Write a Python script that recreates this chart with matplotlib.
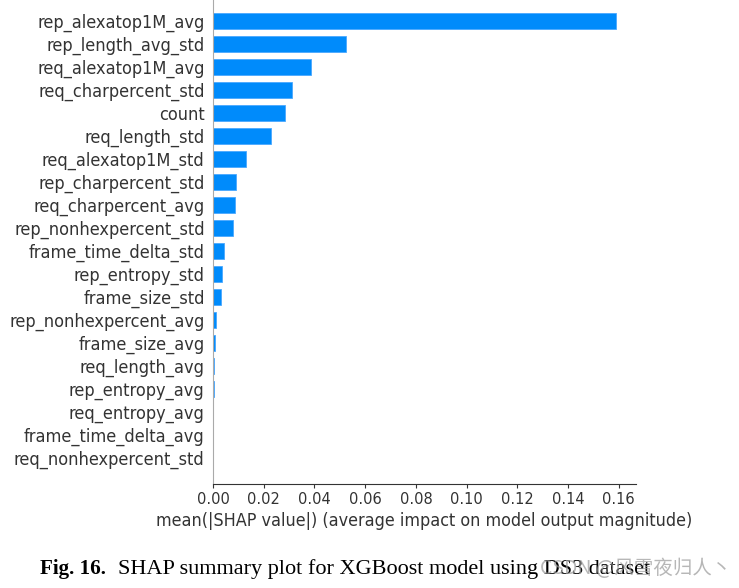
from matplotlib import pyplot as plt
import numpy as np

# features, most important first
features = ["rep_alexatop1M_avg", "rep_length_avg_std", "req_alexatop1M_avg",
            "req_charpercent_std", "count", "req_length_std",
            "req_alexatop1M_std", "rep_charpercent_std", "req_charpercent_avg",
            "rep_nonhexpercent_std", "frame_time_delta_std", "rep_entropy_std",
            "frame_size_std", "rep_nonhexpercent_avg", "frame_size_avg",
            "req_length_avg", "rep_entropy_avg", "req_entropy_avg",
            "frame_time_delta_avg", "req_nonhexpercent_std"]
mean_shap = [0.1588, 0.0525, 0.0385, 0.0310, 0.0283, 0.0228, 0.0130, 0.0089,
             0.0088, 0.0078, 0.0043, 0.0037, 0.0033, 0.0013, 0.0007, 0.0003,
             0.0003, 0.0001, 0.00003, 0.00002]
xticks = [0.00, 0.02, 0.04, 0.06, 0.08, 0.10, 0.12, 0.14, 0.16]

W, H = 739, 588
fig = plt.figure(figsize=(W / 100, H / 100), dpi=100)
ax = fig.add_axes([213 / W, 1 - 483.5 / H, (636 - 213) / W, 483.5 / H])

n = len(features)
y_pos = np.arange(n)[::-1]
ax.barh(y_pos, mean_shap, 0.7, align="center", color="#008bfb",
        edgecolor="#4aa8ff", linewidth=0.6)

ax.set_yticks(y_pos)
ax.set_yticklabels(features, fontsize=13, color="#333333",
                   family="DejaVu Sans", stretch="condensed")
ax.tick_params("y", length=0, pad=6)
ax.set_ylim(-1.11, n - 1 + 0.91)

ax.set_xlim(0, 0.1668)
ax.set_xticks(xticks)
ax.set_xticklabels([f"{t:.2f}" for t in xticks])
ax.tick_params("x", labelsize=10.5, labelcolor="#333333", color="#333333",
               length=3, pad=3)
ax.set_xlabel("mean(|SHAP value|) (average impact on model output magnitude)",
              fontsize=12.9, color="#333333", labelpad=4, stretch="condensed")

for s in ["top", "right"]:
    ax.spines[s].set_visible(False)
ax.spines["left"].set_color("#aaaaaa")
ax.spines["left"].set_linewidth(0.8)
ax.spines["bottom"].set_color("#333333")

# caption below the chart
fig.text(40 / W, 1 - 569 / H, "Fig. 16.", fontsize=15.2, fontweight="bold",
         family="Liberation Serif", va="center", ha="left")
fig.text(118 / W, 1 - 569 / H,
         "SHAP summary plot for XGBoost model using DS3 dataset",
         fontsize=16, family="Liberation Serif", va="center", ha="left")
fig.text(540 / W, 1 - 569 / H, "CSDN @风雪夜归人丶", fontsize=14,
         family=["Noto Sans CJK SC", "DejaVu Sans"], color="#999999",
         alpha=0.7, va="center", ha="left")

fig.savefig("out.png", dpi=100)
